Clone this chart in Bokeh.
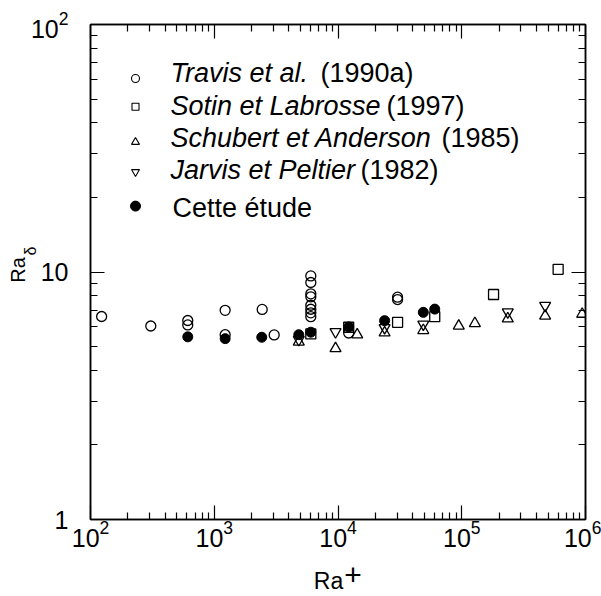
import math
from bokeh.plotting import figure
from bokeh.models import (FixedTicker, Label, LogAxis, LogTicker, LogTickFormatter,
                          CustomJSTickFormatter)
from bokeh.embed import file_html
from bokeh.resources import INLINE

# ---------------- data ----------------
travis_x = [123, 307, 611, 611, 1225, 1225, 2440, 3050,
            6030, 6030, 6030, 6030, 6030, 6030, 6030, 6030,
            12200, 30300, 30300]
travis_y = [6.61, 6.05, 6.37, 6.11, 7.00, 5.58, 7.06, 5.57,
            9.64, 9.07, 8.16, 7.94, 7.34, 7.07, 6.84, 6.60,
            5.67, 7.91, 7.74]

sotin_x = [6030, 12200, 30300, 60500, 180700, 601000]
sotin_y = [5.62, 5.98, 6.26, 6.60, 8.11, 10.25]

schubert_x = [4820, 9550, 14300, 23800, 48900, 94600, 127700, 235500, 472000, 940000]
schubert_y = [5.22, 4.91, 5.58, 5.68, 5.81, 6.05, 6.20, 6.48, 6.64, 6.76]

jarvis_x = [4820, 9550, 23800, 48900, 235500, 472000]
jarvis_y = [5.33, 5.73, 5.95, 6.15, 6.89, 7.32]

cette_x = [611, 1225, 2420, 4820, 6030, 12200, 23800, 48900, 60500]
cette_y = [5.47, 5.38, 5.45, 5.58, 5.71, 6.00, 6.36, 6.87, 7.08]

legend_italic = ["Travis et al.", "Sotin et Labrosse", "Schubert et Anderson", "Jarvis et Peltier"]
legend_year = ["(1990a)", "(1997)", "(1985)", "(1982)"]
legend_plain = "Cette étude"

x_major = [1e2, 1e3, 1e4, 1e5, 1e6]
y_major = [1, 10, 100]
y_label_overrides = {1: "1", 10: "10"}   # 100 keeps the 10^2 form

x_title = ["Ra", "+"]
y_title = ["Ra", "δ"]

# ---------------- layout ----------------
FONT = "Liberation Sans"
W, H = 601, 596
FL, FR, FT, FB = 90, 585, 24, 522
X0, X1 = 1e2, 1e6
Y0, Y1 = 1.0, 100.0


def px_x(px):
    return 10 ** (math.log10(X0) + (px - FL) / (FR - FL) * (math.log10(X1) - math.log10(X0)))


def px_y(py):
    return 10 ** (math.log10(Y0) + (FB - py) / (FB - FT) * (math.log10(Y1) - math.log10(Y0)))


p = figure(width=W, height=H, x_axis_type="log", y_axis_type="log",
           x_range=(X0, X1), y_range=(Y0, Y1), title=None,
           output_backend="svg", toolbar_location=None,
           min_border_left=FL, min_border_right=W - FR,
           min_border_top=FT, min_border_bottom=H - FB)
p.background_fill_color = "white"
p.border_fill_color = "white"
p.outline_line_color = "black"
p.outline_line_width = 1.5
p.xgrid.grid_line_color = None
p.ygrid.grid_line_color = None

x_minor = [k * 10 ** n for n in range(2, 6) for k in range(2, 10)]
y_minor = [k * 10 ** n for n in range(0, 2) for k in range(2, 10)]


def tick_axis(ax, major, minor):
    ax.ticker = FixedTicker(ticks=major, minor_ticks=minor)
    ax.major_tick_in = 14
    ax.major_tick_out = 0
    ax.minor_tick_in = 7
    ax.minor_tick_out = 0
    ax.axis_line_width = 1.5
    ax.axis_line_color = "black"
    ax.major_tick_line_width = 1.2
    ax.minor_tick_line_width = 1.2
    ax.major_tick_line_color = "black"
    ax.minor_tick_line_color = "black"
    ax.major_label_text_font = FONT
    ax.major_label_text_color = "black"


# bottom / left: real tick labels
xa = p.xaxis[0]
tick_axis(xa, x_major, x_minor)
xa.formatter = LogTickFormatter(ticker=LogTicker())
xa.major_label_text_font_size = "25px"
xa.major_label_standoff = 0

ya = p.yaxis[0]
tick_axis(ya, y_major, y_minor)
ya.formatter = LogTickFormatter(ticker=LogTicker())
ya.major_label_overrides = y_label_overrides
ya.major_label_text_font_size = "25px"
ya.major_label_standoff = 22

# top / right: mirrored ticks, no labels
for side, major, minor in (("above", x_major, x_minor), ("right", y_major, y_minor)):
    ax = LogAxis()
    tick_axis(ax, major, minor)
    ax.formatter = CustomJSTickFormatter(code="return ''")
    ax.major_label_text_font_size = "1px"
    ax.major_label_standoff = 0
    p.add_layout(ax, side)


# axis titles: label-only axes placed in the side panels
def title_axis(side, ticks, labels, size, standoff, orientation="horizontal"):
    ax = LogAxis()
    ax.ticker = FixedTicker(ticks=ticks, minor_ticks=[])
    ax.formatter = CustomJSTickFormatter(args=dict(labels=labels), code="return labels[index]")
    ax.axis_line_color = None
    ax.major_tick_line_color = None
    ax.minor_tick_line_color = None
    ax.major_tick_in = 0
    ax.major_tick_out = 0
    ax.minor_tick_in = 0
    ax.minor_tick_out = 0
    ax.major_label_text_font = FONT
    ax.major_label_text_font_size = f"{size}px"
    ax.major_label_text_color = "black"
    ax.major_label_standoff = standoff
    ax.major_label_orientation = orientation
    p.add_layout(ax, side)


title_axis("below", [px_x(328)], [x_title[0]], 23, 18)
title_axis("below", [px_x(352.5)], [x_title[1]], 30, -32)
title_axis("left", [px_y(252)], [y_title[1]], 16, -12, "vertical")
title_axis("left", [px_y(271)], [y_title[0]], 20, -10, "vertical")

# ---------------- data marks ----------------
LW = 1.3
p.scatter(travis_x, travis_y, marker="circle", size=10, fill_color=None,
          line_color="black", line_width=LW)
p.scatter(sotin_x, sotin_y, marker="square", size=10, fill_color=None,
          line_color="black", line_width=LW)
p.scatter(schubert_x, schubert_y, marker="triangle", size=11, fill_color=None,
          line_color="black", line_width=LW)
p.scatter(jarvis_x, jarvis_y, marker="inverted_triangle", size=11, fill_color=None,
          line_color="black", line_width=LW)
p.scatter(cette_x, cette_y, marker="circle", size=10, fill_color="black",
          line_color="black", line_width=1)

LEG_SIZE = 27
BASE_FIX = 0.3465 * LEG_SIZE   # alphabetic-baseline correction observed in the render


def lab(text, x, y, dx, dy, size, style="normal"):
    p.add_layout(Label(x=x, y=y, x_offset=dx, y_offset=dy, text=text,
                       text_font=FONT, text_font_size=f"{size}px",
                       text_font_style=style, text_align="left",
                       text_baseline="alphabetic", text_color="black"))


# ---------------- legend (inside the frame) ----------------
row_marker_py = [78.3, 106.7, 142.3, 172.3, 206.7]
row_text_py = [81.7, 115, 147, 179, 217]
year_px = [320, 386, 441, 360]
markers = ["circle", "square", "triangle", "inverted_triangle"]
msizes = [8, 7, 8, 8]
for i in range(4):
    p.scatter([px_x(135)], [px_y(row_marker_py[i])], marker=markers[i], size=msizes[i],
              fill_color=None, line_color="black", line_width=1.1)
    dy = -(row_text_py[i] - BASE_FIX - FT)
    lab(legend_italic[i], X0, Y1, 170 - FL, dy, LEG_SIZE, style="italic")
    lab(legend_year[i], X0, Y1, year_px[i] - FL, dy, LEG_SIZE)
p.scatter([px_x(135)], [px_y(row_marker_py[4])], marker="circle", size=10,
          fill_color="black", line_color="black")
lab(legend_plain, X0, Y1, 172 - FL, -(row_text_py[4] - BASE_FIX - FT), LEG_SIZE)

open("out.html", "w").write(file_html(p, INLINE))
